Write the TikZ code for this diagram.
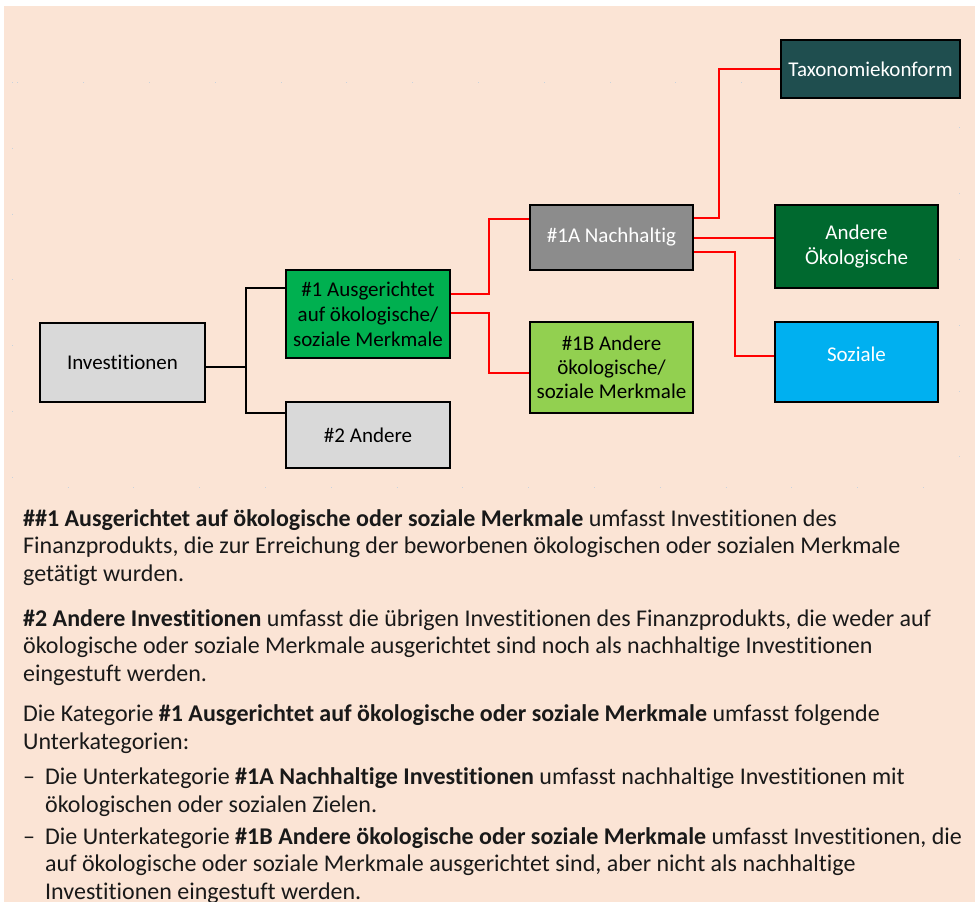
\documentclass[tikz,border=0pt]{standalone}
\usepackage{fontspec}
\setmainfont{Carlito}[Ligatures=NoCommon]
\usepackage{tikz}
\usetikzlibrary{positioning}
\definecolor{EsgPeach}{HTML}{FBE4D5}
\definecolor{EsgLightGray}{HTML}{D9D9D9}
\definecolor{EsgGray}{HTML}{8C8C8C}
\definecolor{EsgGreen}{HTML}{00B050}
\definecolor{EsgLime}{HTML}{92D050}
\definecolor{EsgTeal}{HTML}{1F4E4F}
\definecolor{EsgForest}{HTML}{00692F}
\definecolor{EsgSky}{HTML}{00B0F0}
\definecolor{EsgRed}{HTML}{FF0000}
\definecolor{EsgDots}{HTML}{C8D2DC}

\begin{document}
\begin{tikzpicture}[
    x=1pt, y=-1pt,
    every node/.style={font=\fontsize{21}{25}\selectfont},
    box/.style={
        rectangle,
        draw=black,
        line width=2.6pt,
        minimum width=164pt,
        align=center,
        inner sep=2pt
    },
    darkbox/.style={
        box,
        text=white
    },
    tree/.style={
        line width=2pt,
        color=black
    },
    branch/.style={
        line width=2pt,
        color=EsgRed
    },
    para/.style={
        anchor=base west,
        align=left,
        inner sep=0pt,
        text=black!90,
        font=\fontsize{24}{27.5}\selectfont
    }
]

% page and frame
\useasboundingbox (0,0) rectangle (975,902);
\fill[white] (0,0) rectangle (975,902);
\fill[EsgPeach] (4,6) rectangle (975,902);
\draw[EsgDots, line width=0.8pt, dash pattern=on 0.8pt off 65pt] (12,82) rectangle (959,487);

% boxes
\node[box, fill=EsgLightGray, minimum width=165pt, minimum height=79pt] (inv) at (122.5,362.5) {Investitionen};
\node[box, fill=EsgGreen, minimum height=88pt] (ausg) at (368,314) {\#1 Ausgerichtet\\auf ökologische/\\soziale Merkmale};
\node[box, fill=EsgLightGray, minimum height=66pt] (andere) at (368,435) {\#2 Andere};
\node[darkbox, fill=EsgGray, minimum width=163pt, minimum height=65pt] (nach) at (611.5,237.5) {\#1A Nachhaltig};
\node[box, fill=EsgLime, minimum width=163pt, minimum height=91pt, font=\fontsize{21}{24}\selectfont] (andm) at (611.5,367.5) {\#1B Andere\\ökologische/\\soziale Merkmale};
\node[darkbox, fill=EsgTeal, line width=1.4pt, minimum width=179pt, minimum height=58pt] (tax) at (870.5,69) {Taxonomiekonform};
\node[darkbox, fill=EsgForest, minimum width=163pt, minimum height=83pt] (oeko) at (856.5,246.5) {Andere\\Ökologische};
\node[darkbox, fill=EsgSky, minimum width=163pt, minimum height=80pt, text depth=16pt] (soz) at (856.5,362) {Soziale};

% connectors
\draw[tree] ([yshift=-4pt]inv.east) -- ++(40,0) coordinate (jn);
\draw[tree] (jn) |- ([yshift=26pt]ausg.west);
\draw[tree] (jn) |- ([yshift=22pt]andere.west);
\draw[branch] ([yshift=20pt]ausg.east) -- ++(38,0) |- ([yshift=18.5pt]nach.west);
\draw[branch] ([yshift=1pt]ausg.east) -- ++(38,0) |- ([yshift=-5.5pt]andm.west);
\draw[branch] ([yshift=19.5pt]nach.east) -- ++(25,0) |- (tax.west);
\draw[branch] (nach.east) -- (nach.east -| oeko.west);
\draw[branch] ([yshift=-14.5pt]nach.east) -- ++(41,0) |- ([yshift=6pt]soz.west);

% explanation
\node[para] (p1) at (23,581) {\textbf{\#\#1 Ausgerichtet auf ökologische oder soziale Merkmale} umfasst Investitionen des\\Finanzprodukts, die zur Erreichung der beworbenen ökologischen oder sozialen Merkmale\\getätigt wurden.};
\node[para] (p2) at (23,681) {\textbf{\#2 Andere Investitionen} umfasst die übrigen Investitionen des Finanzprodukts, die weder auf\\ökologische oder soziale Merkmale ausgerichtet sind noch als nachhaltige Investitionen\\eingestuft werden.};
\node[para] (p3) at (23,749) {Die Kategorie \textbf{\#1 Ausgerichtet auf ökologische oder soziale Merkmale} umfasst folgende\\Unterkategorien:};
\node[para] (b1) at (23,812) {\makebox[22pt][l]{\textendash}Die Unterkategorie \textbf{\#1A Nachhaltige Investitionen} umfasst nachhaltige Investitionen mit\\\hspace*{22pt}ökologischen oder sozialen Zielen.};
\node[para] (b2) at (23,899) {\makebox[22pt][l]{\textendash}Die Unterkategorie \textbf{\#1B Andere ökologische oder soziale Merkmale} umfasst Investitionen, die\\\hspace*{22pt}auf ökologische oder soziale Merkmale ausgerichtet sind, aber nicht als nachhaltige\\\hspace*{22pt}Investitionen eingestuft werden.};

\end{tikzpicture}
\end{document}
